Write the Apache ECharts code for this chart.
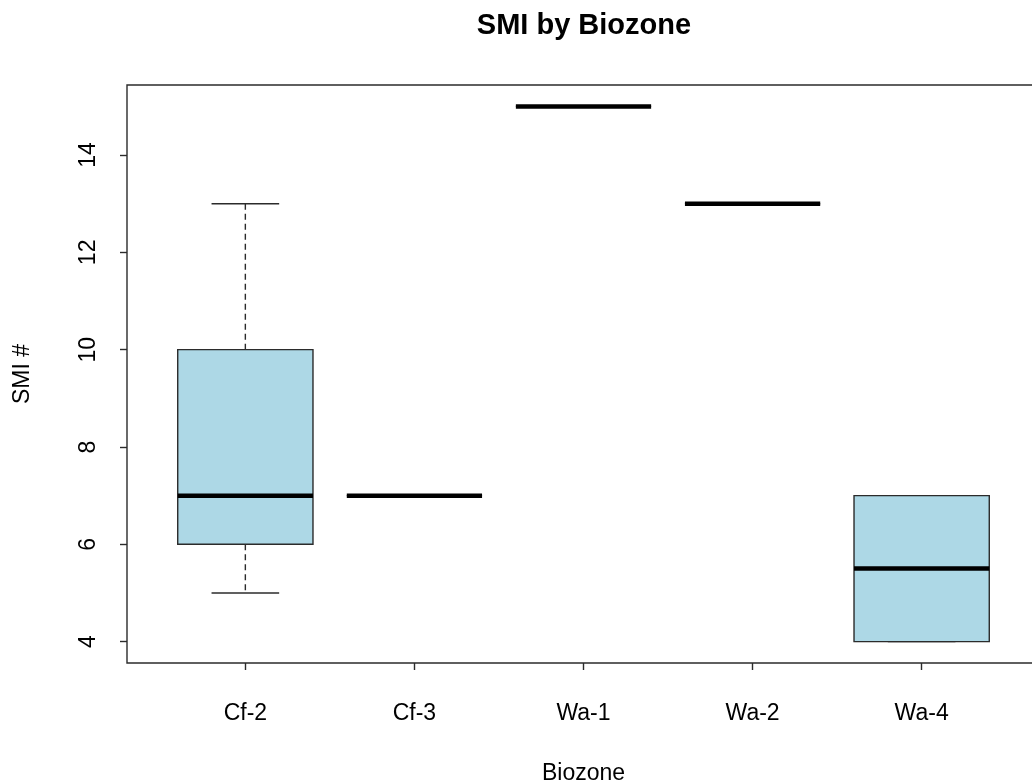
<!DOCTYPE html>
<html>
<head>
<meta charset="utf-8">
<script src="https://cdn.jsdelivr.net/npm/echarts@6/dist/echarts.min.js"></script>
<style>
  html, body { margin: 0; padding: 0; background: #fff; }
  #chart { width: 1032px; height: 783px; }
</style>
</head>
<body>
<div id="chart"></div>
<script>
const categories = ['Cf-2', 'Cf-3', 'Wa-1', 'Wa-2', 'Wa-4'];
const whiskerLow = [5, 7, 15, 13, 4];
const q1 = [6, 7, 15, 13, 4];
const median = [7, 7, 15, 13, 5.5];
const q3 = [10, 7, 15, 13, 7];
const whiskerHigh = [13, 7, 15, 13, 7];
const yTicks = [4, 6, 8, 10, 12, 14];
const xPositions = categories.map((c, i) => i + 1);

const data = categories.map((c, i) => [i + 1, whiskerLow[i], q1[i], median[i], q3[i], whiskerHigh[i]]);

const lineColor = '#2b2b2b';
const font = "'Liberation Sans', Arial, sans-serif";

const chart = echarts.init(document.getElementById('chart'), null, { renderer: 'canvas' });

function renderItem(params, api) {
  const x = api.value(0);
  const lo = api.coord([x, api.value(1)]);
  const b1 = api.coord([x, api.value(2)]);
  const md = api.coord([x, api.value(3)]);
  const b3 = api.coord([x, api.value(4)]);
  const hi = api.coord([x, api.value(5)]);
  const boxW = api.size([0.8, 0])[0];
  const capW = boxW / 2;
  const cx = lo[0];
  const children = [];
  if (hi[1] < b3[1]) {
    children.push({ type: 'line', shape: { x1: cx, y1: b3[1], x2: cx, y2: hi[1] },
      style: { stroke: lineColor, lineWidth: 1.4, lineDash: [6, 4] } });
  }
  if (lo[1] > b1[1]) {
    children.push({ type: 'line', shape: { x1: cx, y1: b1[1], x2: cx, y2: lo[1] },
      style: { stroke: lineColor, lineWidth: 1.4, lineDash: [6, 4] } });
  }
  children.push({ type: 'line', shape: { x1: cx - capW / 2, y1: hi[1], x2: cx + capW / 2, y2: hi[1] },
    style: { stroke: lineColor, lineWidth: 1.4 } });
  children.push({ type: 'line', shape: { x1: cx - capW / 2, y1: lo[1], x2: cx + capW / 2, y2: lo[1] },
    style: { stroke: lineColor, lineWidth: 1.4 } });
  children.push({ type: 'rect', shape: { x: cx - boxW / 2, y: b3[1], width: boxW, height: b1[1] - b3[1] },
    style: { fill: '#ADD8E6', stroke: lineColor, lineWidth: 1.4 } });
  children.push({ type: 'line', shape: { x1: cx - boxW / 2, y1: md[1], x2: cx + boxW / 2, y2: md[1] },
    style: { stroke: '#000', lineWidth: 4.5 } });
  return { type: 'group', children };
}

const option = {
  backgroundColor: '#fff',
  animation: false,
  title: {
    text: 'SMI by Biozone',
    left: 584,
    textAlign: 'center',
    top: 11,
    padding: 0,
    textStyle: { fontFamily: font, fontSize: 29, fontWeight: 'bold', color: '#000' }
  },
  grid: {
    left: 127, top: 85, width: 913, height: 578,
    outerBoundsMode: 'none',
    containLabel: false,
    show: true, borderColor: lineColor, borderWidth: 1.4, backgroundColor: 'transparent'
  },
  xAxis: {
    type: 'value',
    min: 0.3,
    max: 5.7,
    name: 'Biozone',
    nameLocation: 'middle',
    nameGap: 99,
    nameTextStyle: { fontFamily: font, fontSize: 23, color: '#000' },
    axisLine: { show: false },
    splitLine: { show: false },
    axisTick: { show: true, customValues: xPositions, length: 7, lineStyle: { color: lineColor, width: 1.4 } },
    axisLabel: {
      customValues: xPositions,
      margin: 39,
      fontFamily: font, fontSize: 23, color: '#000',
      formatter: v => categories[Math.round(v) - 1] || ''
    }
  },
  yAxis: {
    type: 'value',
    min: 3.56,
    max: 15.44,
    name: 'SMI #',
    nameLocation: 'middle',
    nameRotate: 90,
    nameGap: 93,
    nameTextStyle: { fontFamily: font, fontSize: 23, color: '#000' },
    axisLine: { show: false },
    splitLine: { show: false },
    axisTick: { show: true, customValues: yTicks, length: 7, lineStyle: { color: lineColor, width: 1.4 } },
    axisLabel: {
      customValues: yTicks,
      rotate: 90,
      margin: 27,
      fontFamily: font, fontSize: 23, color: '#000'
    }
  },
  series: [{
    type: 'custom',
    renderItem: renderItem,
    encode: { x: 0, y: [1, 2, 3, 4, 5] },
    data: data,
    clip: false
  }]
};

chart.setOption(option);
</script>
</body>
</html>
